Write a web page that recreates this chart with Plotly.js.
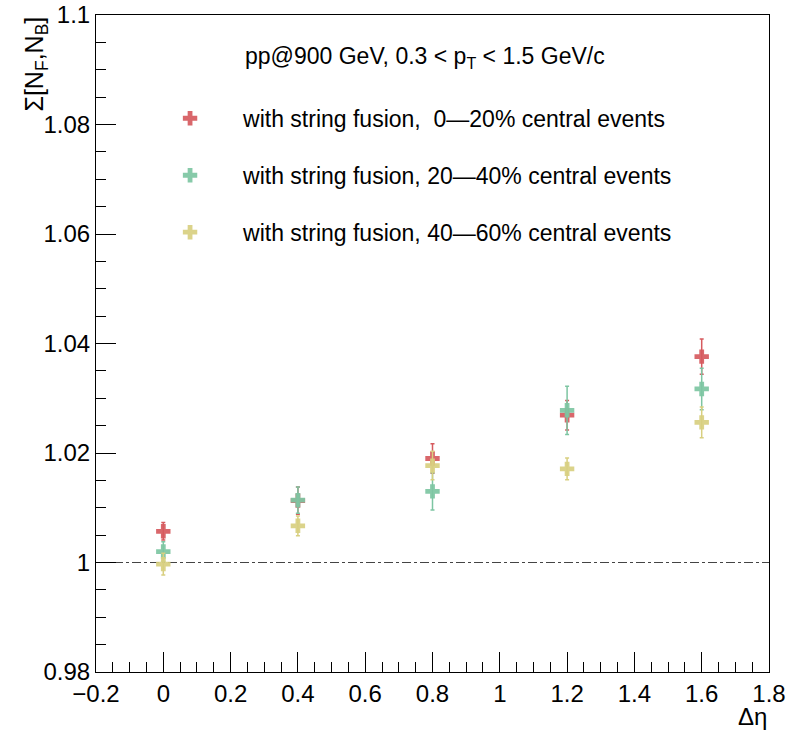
<!DOCTYPE html>
<html>
<head>
<meta charset="utf-8">
<script src="https://cdn.plot.ly/plotly-3.0.1.min.js"></script>
<style>
  html, body { margin: 0; padding: 0; background: #fff; }
  #plot { width: 790px; height: 734px; }
</style>
</head>
<body>
<div id="plot"></div>
<script>
// Forward-backward correlation Σ[N_F,N_B] vs Δη, pp@900 GeV, string fusion
const deltaEta = [0, 0.4, 0.8, 1.2, 1.6];

const sigma_0_20 = [1.0057, 1.0113, 1.0190, 1.0269, 1.0376];
const err_0_20 = [0.0016, 0.0025, 0.0027, 0.0027, 0.0032];

const sigma_20_40 = [1.0020, 1.0114, 1.0130, 1.0278, 1.0317];
const err_20_40 = [0.0018, 0.0024, 0.0034, 0.0044, 0.0038];

const sigma_40_60 = [0.9997, 1.0067, 1.0177, 1.0171, 1.0256];
const err_40_60 = [0.0020, 0.0018, 0.0026, 0.0020, 0.0028];

const seriesNames = [
  'with string fusion,\u00a0\u00a00\u201420% central events',
  'with string fusion, 20\u201440% central events',
  'with string fusion, 40\u201460% central events'
];
const seriesColors = ['#d65a5e', '#7dc5a2', '#d8cf80'];

const xTickVals = [-0.2, 0, 0.2, 0.4, 0.6, 0.8, 1, 1.2, 1.4, 1.6, 1.8];
const xTickText = ['\u22120.2', '0', '0.2', '0.4', '0.6', '0.8', '1', '1.2', '1.4', '1.6', '1.8'];
const yTickVals = [0.98, 1.0, 1.02, 1.04, 1.06, 1.08, 1.1];
const yTickText = ['0.98', '1', '1.02', '1.04', '1.06', '1.08', '1.1'];

const FONT = 'Liberation Sans, Arial, Helvetica, sans-serif';

const ys = [sigma_0_20, sigma_20_40, sigma_40_60];
const es = [err_0_20, err_20_40, err_40_60];
const legendIds = ['legend', 'legend2', 'legend3'];

const traces = ys.map((y, i) => ({
  type: 'scatter',
  mode: 'markers',
  x: deltaEta,
  y: y,
  name: seriesNames[i],
  legend: legendIds[i],
  marker: { symbol: 'cross', size: 12, color: seriesColors[i], opacity: 0.92, line: { width: 0 } },
  error_y: { type: 'data', array: es[i], visible: true, color: seriesColors[i], thickness: 1.5, width: 2 },
  cliponaxis: false
}));

function legendAt(yPaper) {
  return {
    x: 0.061, xanchor: 'left',
    y: yPaper, yanchor: 'middle',
    bgcolor: 'rgba(0,0,0,0)', borderwidth: 0,
    itemwidth: 96,
    font: { family: FONT, size: 23, color: '#000' }
  };
}

const layout = {
  width: 790, height: 734,
  margin: { l: 96, r: 21, t: 15, b: 62 },
  paper_bgcolor: '#fff', plot_bgcolor: '#fff',
  font: { family: FONT, color: '#000' },
  showlegend: true,
  legend: legendAt(0.8428),
  legend2: legendAt(0.756),
  legend3: legendAt(0.6693),
  xaxis: {
    range: [-0.2, 1.8], showgrid: false, zeroline: false,
    showline: true, mirror: true, linecolor: '#000', linewidth: 1,
    ticks: 'inside', ticklen: 20, tickcolor: '#000', tickwidth: 1,
    tickvals: xTickVals, ticktext: xTickText,
    tickfont: { family: FONT, size: 24, color: '#000' },
    minor: { dtick: 0.05, ticks: 'inside', ticklen: 10, tickcolor: '#000', tickwidth: 1, showgrid: false }
  },
  yaxis: {
    range: [0.98, 1.1], showgrid: false, zeroline: false,
    showline: true, mirror: true, linecolor: '#000', linewidth: 1,
    ticks: 'inside', ticklen: 20, tickcolor: '#000', tickwidth: 1,
    tickvals: yTickVals, ticktext: yTickText,
    tickfont: { family: FONT, size: 24, color: '#000' },
    minor: { dtick: 0.005, ticks: 'inside', ticklen: 10, tickcolor: '#000', tickwidth: 1, showgrid: false }
  },
  shapes: [{
    type: 'line', xref: 'x', yref: 'y',
    x0: -0.2, x1: 1.8, y0: 1, y1: 1,
    line: { color: '#444', width: 1, dash: 'dashdot' },
    layer: 'below'
  }],
  annotations: [
    {
      xref: 'paper', yref: 'paper', x: 0.2184, y: 0.9356,
      xanchor: 'left', yanchor: 'middle', showarrow: false,
      text: 'pp@900 GeV, 0.3 &lt; p<sub>T</sub> &lt; 1.5 GeV/c',
      font: { family: FONT, size: 23, color: '#000' }
    },
    {
      xref: 'paper', yref: 'paper', x: -0.0906, y: 1.0,
      xanchor: 'center', yanchor: 'top', showarrow: false, textangle: -90,
      text: '\u03a3[N<sub>F</sub>,N<sub>B</sub>]',
      font: { family: FONT, size: 25, color: '#000' }
    },
    {
      xref: 'paper', yref: 'paper', x: 1.0, y: -0.0674,
      xanchor: 'right', yanchor: 'middle', showarrow: false,
      text: '\u0394\u03b7',
      font: { family: FONT, size: 24, color: '#000' }
    }
  ]
};

Plotly.newPlot('plot', traces, layout, { displayModeBar: false, staticPlot: true });
</script>
</body>
</html>
